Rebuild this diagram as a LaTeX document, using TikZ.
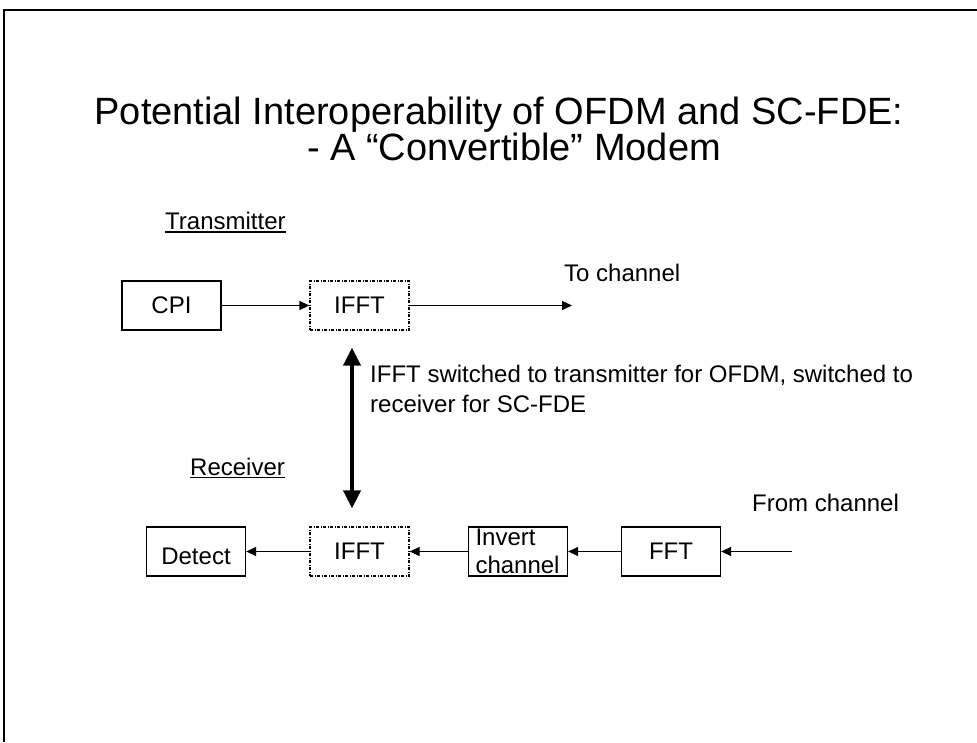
\documentclass[tikz,border=0pt]{standalone}
\usepackage{fontspec}
\setmainfont{Liberation Sans}
\usetikzlibrary{arrows.meta}
\begin{document}
\begin{tikzpicture}[x=1pt,y=-1pt,
  body/.style={font=\fontsize{24}{28}\selectfont},
  titlefont/.style={font=\fontsize{38}{36}\selectfont, inner sep=0pt, anchor=base},
  blk/.style={draw, line width=1.3pt, minimum width=99pt, minimum height=49pt, inner sep=0pt, body},
  dblk/.style={blk, dash pattern=on 3pt off 1.5pt on 1pt off 1.5pt},
  conn/.style={line width=1.3pt, -{Triangle[length=10pt,width=9pt]}},
  bigconn/.style={line width=4pt, {Triangle[length=18pt,width=17pt]}-{Triangle[length=18pt,width=17pt]}},
  txt/.style={body, inner sep=0pt, anchor=base west},
  uline/.style={line width=1.5pt}]
\useasboundingbox (0,0) rectangle (977,742);
% slide frame
\draw[line width=1.3pt] (4,742) -- (4,10) -- (977,10);
% title
\node[titlefont] (t1) at (499,124) {Potential Interoperability of OFDM and SC-FDE:};
\node[titlefont] (t2) at (514,160) {- A “Convertible” Modem};
% section labels
\node[txt] (tx) at (165,229.5) {Transmitter};
\draw[uline] ([yshift=-2.5pt]tx.base west) -- ([yshift=-2.5pt]tx.base east);
\node[txt] (rxl) at (190,475) {Receiver};
\draw[uline] ([yshift=-2.5pt]rxl.base west) -- ([yshift=-2.5pt]rxl.base east);
% transmitter chain
\node[blk] (cpi) at (171.5,305.5) {CPI};
\node[dblk] (ifft1) at (359.5,305.5) {IFFT};
\coordinate (tochan) at (572,305.5);
\node[txt] (tolab) at (564,281) {To channel};
\draw[conn] (cpi) -- (ifft1);
\draw[conn] (ifft1) -- (tochan);
% receiver chain
\node[blk, text height=25pt, text depth=0pt] (det) at (196,551.5) {Detect};
\node[dblk] (ifft2) at (359.5,551.5) {IFFT};
\node[blk, align=left, text width=85pt, inner xsep=6.5pt] (inv) at (518,551.5) {Invert\\channel};
\node[blk] (fft) at (671,551.5) {FFT};
\coordinate (fromchan) at (792,551.5);
\node[txt] (fromlab) at (752,511) {From channel};
\draw[conn] (fromchan) -- (fft);
\draw[conn] (fft) -- (inv);
\draw[conn] (inv) -- (ifft2);
\draw[conn] (ifft2) -- (det);
% switch arrow
\draw[bigconn] ([xshift=-7.5pt,yshift=-17pt]ifft1.south) -- ([xshift=-7.5pt,yshift=18pt]ifft2.north);
\node[txt] (note1) at (370,382) {IFFT switched to transmitter for OFDM, switched to};
\node[txt] (note2) at (370,412) {receiver for SC-FDE};
\end{tikzpicture}
\end{document}
